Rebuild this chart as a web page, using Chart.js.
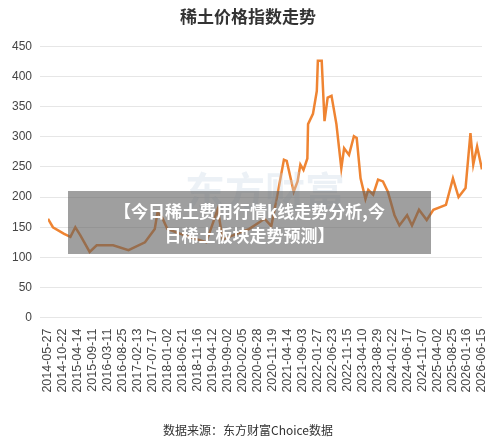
<!DOCTYPE html><html><head><meta charset="utf-8">
<script src="https://cdn.jsdelivr.net/npm/chart.js@4/dist/chart.umd.min.js"></script>
<style>
html,body{margin:0;padding:0;background:#fff;font-family:"Noto Sans CJK SC",sans-serif}
#wrap{position:relative;width:500px;height:446px}
#banner{position:absolute;left:68px;top:191px;width:363px;height:63px;background:rgba(95,95,95,0.6);color:#fff;font-weight:bold;font-size:17px;line-height:24px;text-align:center;display:flex;align-items:center;justify-content:center;padding:0 4px;box-sizing:border-box;white-space:nowrap}
#wm{position:absolute;left:185px;top:160px;font-size:40px;color:rgba(200,215,230,0.35);font-weight:bold}
</style></head><body>
<div id="wrap"><canvas id="c" width="500" height="446"></canvas>
<div id="wm">东方财富</div>
<div id="banner"><div>【今日稀土费用行情k线走势分析,今<br>日稀土板块走势预测】</div></div></div>
<script>
const dateLabels=["2014-05-27","2014-10-22","2015-04-14","2015-09-11","2016-03-11","2016-08-25","2017-02-13","2017-07-17","2018-01-02","2018-06-21","2018-11-16","2019-04-12","2019-09-02","2020-02-05","2020-06-28","2020-11-19","2021-04-14","2021-09-03","2022-01-27","2022-06-23","2022-11-15","2023-04-10","2023-08-29","2024-01-22","2024-06-17","2024-11-07","2025-04-02","2025-08-25","2026-01-16","2026-06-15"];
const xPos=[0,1.4,4.6,6.4,7.8,9.2,11.9,13.9,18.6,23,27.7,30.5,31.3,32.7,34.1,38.8,45.2,48.5,49.9,57.4,61.9,63.8,65.7,67.4,68.2,70.2,71.3,72.1,73,74.1,74.3,75.7,76.8,77.1,78.2,79,79.9,81,82.4,83.8,84.6,86,87.4,88.2,89.3,90.7,91.5,92.9,94.3,95.7,97.1,99,100.4,102.6,104,106,108.2,110.1,113.7,115.7,117.3,119.3,120.7,121.5,122.6,124];
const values=[164,150,139,134,150,137,109,120,120,112,125,147,175,165,147,137,125,180,130,147,164,152,209,262,260,209,226,254,245,264,321,338,376,426,426,326,365,368,321,248,281,270,301,298,231,197,212,204,229,226,209,170,153,170,153,179,162,179,187,231,200,215,306,254,284,246];
const step=124/(dateLabels.length-1);
new Chart(document.getElementById('c'),{type:'line',
data:{datasets:[{data:xPos.map((x,i)=>({x:x,y:values[i]})),borderColor:'#ef8432',borderWidth:2.5,pointRadius:0,tension:0}]},
options:{responsive:false,animation:false,
layout:{padding:{left:4,right:8,top:0,bottom:0}},
plugins:{legend:{display:false},tooltip:{enabled:false},
title:{display:true,text:'稀土价格指数走势',color:'#333',font:{size:17,weight:'bold',family:'Noto Sans CJK SC'},padding:{top:6,bottom:20}},
subtitle:{display:true,position:'bottom',text:'数据来源：东方财富Choice数据',color:'#333',font:{size:12,family:'Noto Sans CJK SC'},padding:{top:28,bottom:8}}},
scales:{x:{type:'linear',min:0,max:124,afterBuildTicks:s=>{s.ticks=dateLabels.map((d,i)=>({value:i*step}));},
ticks:{autoSkip:false,maxRotation:90,minRotation:90,color:'#444',font:{size:12.5,family:'Liberation Sans'},callback:(v,i)=>dateLabels[i]},
grid:{display:false},border:{display:false}},
y:{min:0,max:450,ticks:{stepSize:50,color:'#444',font:{size:12,family:'Liberation Sans'},padding:8},grid:{color:'#e6e6e6'},border:{display:false}}}}});
</script></body></html>
